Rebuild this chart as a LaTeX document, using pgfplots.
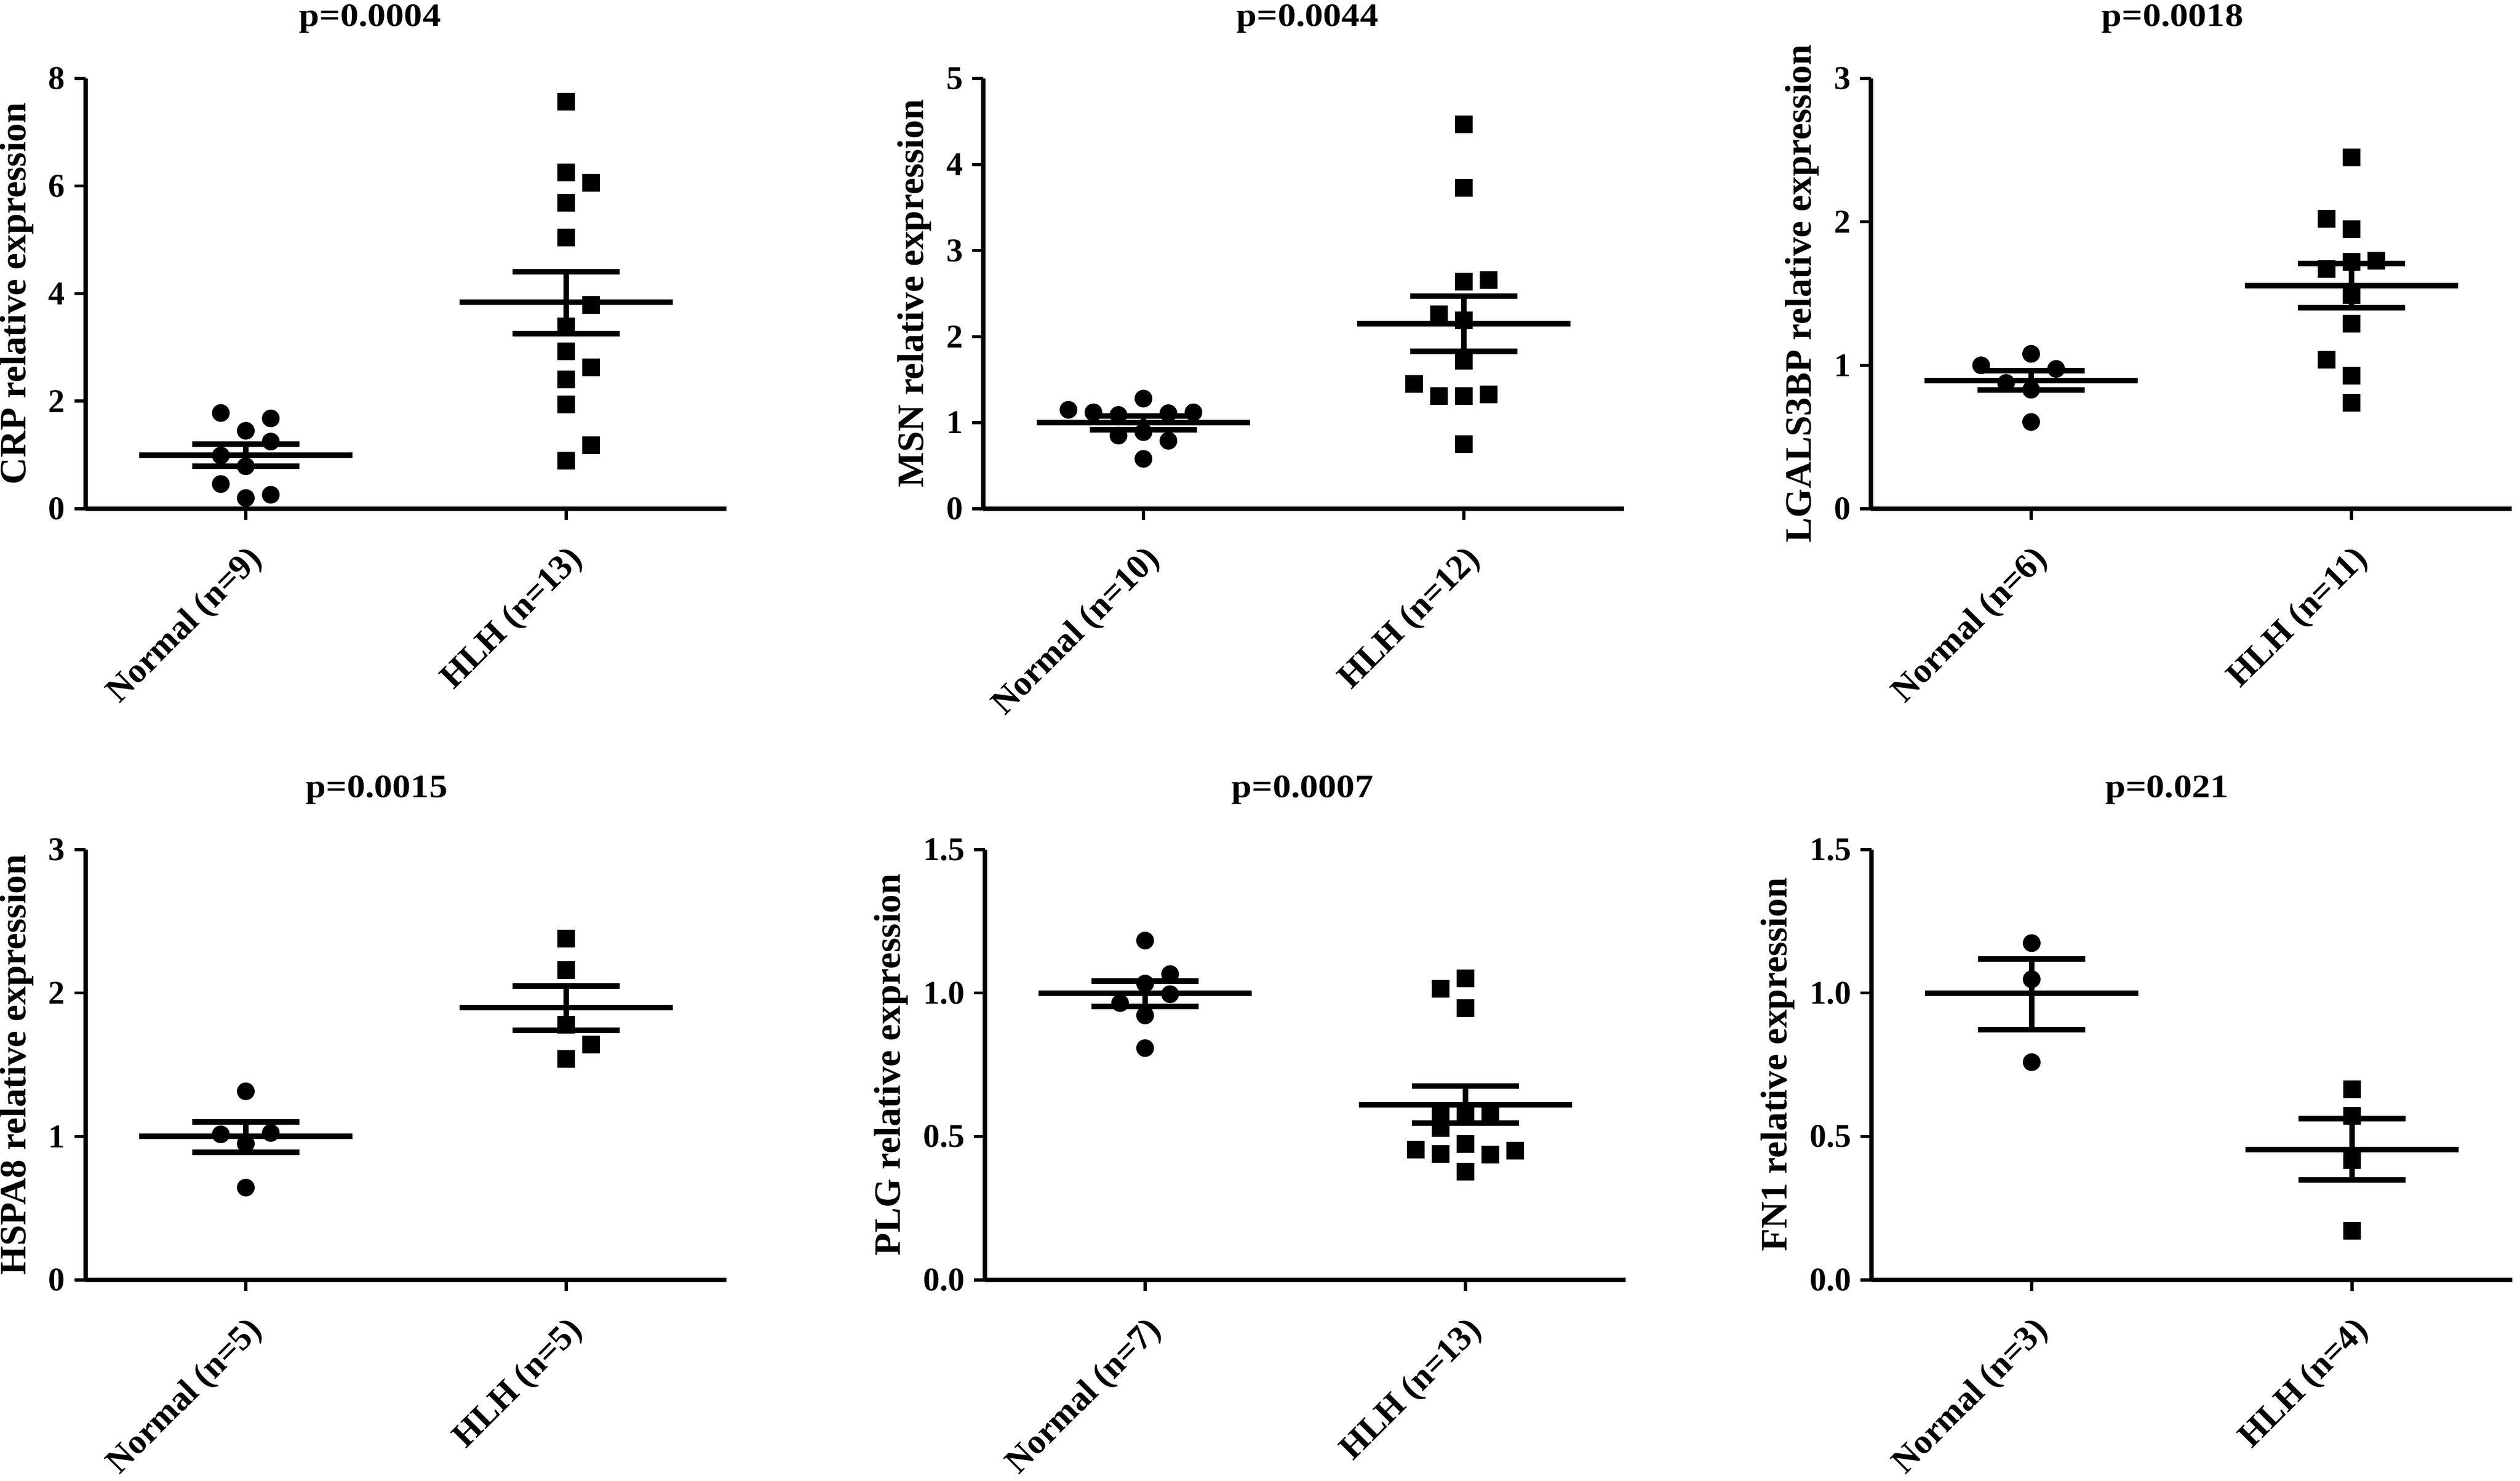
\documentclass[border=0pt]{standalone}
\usepackage{fontspec}
\setmainfont{Liberation Serif}
\newfontfamily\titlefam{Liberation Serif}[FakeStretch=1.12]
\usepackage{pgfplots}
\pgfplotsset{compat=1.18}

\newcommand{\tickfont}{\fontsize{6}{7}\selectfont\bfseries}
\newcommand{\labfont}{\fontsize{6.75}{8}\selectfont\bfseries}
\newcommand{\xlabfont}{\fontsize{6.3}{8}\selectfont\bfseries}
\newcommand{\ttlfont}{\titlefam\fontsize{5.9}{7}\selectfont\bfseries}

\pgfplotsset{
  panel/.style={
    scale only axis, width=116pt, height=77.9pt,
    xmin=0.5, xmax=2.5, ymin=0,
    axis x line*=bottom, axis y line*=left,
    axis line style={black, line width=0.8pt},
    xtick={1,2}, tick align=outside, major tick length=2pt,
    every tick/.style={black, line width=0.55pt},
    x tick label style={font=\xlabfont, rotate=45, anchor=north east},
    xticklabel shift=-0.7pt,
    y tick label style={font=\tickfont, inner sep=1.5pt},
    /pgf/number format/assume math mode=true,
    every axis y label/.style={font=\labfont, at={(ticklabel cs:0.5)}, anchor=near ticklabel, rotate=90, inner sep=1pt},
    clip=false,
  },
  nrm/.style={only marks, mark=*, black, mark size=1.55pt, mark options={line width=0.1pt}},
  hlh/.style={only marks, mark=square*, black, mark size=1.55pt, mark options={line width=0.1pt}},
  sem/.style={black, line width=1pt, mark=none},
}
% mean and SEM lines for group 1 (x=1) and group 2 (x=2): {mean}{lower}{upper}
\newcommand{\semN}[3]{%
  \addplot[sem] coordinates {(0.667,#1) (1.333,#1)};
  \addplot[sem] coordinates {(0.833,#3) (1.167,#3)};
  \addplot[sem] coordinates {(0.833,#2) (1.167,#2)};
  \addplot[sem] coordinates {(1,#2) (1,#3)};}
\newcommand{\semH}[3]{%
  \addplot[sem] coordinates {(1.667,#1) (2.333,#1)};
  \addplot[sem] coordinates {(1.833,#3) (2.167,#3)};
  \addplot[sem] coordinates {(1.833,#2) (2.167,#2)};
  \addplot[sem] coordinates {(2,#2) (2,#3)};}

\begin{document}
\begin{tikzpicture}
\path[use as bounding box] (0,0) rectangle (456.2pt,268.1pt);

% ---------- CRP ----------
\begin{axis}[panel, at={(15.5pt,176.0pt)}, anchor=south west,
  ymax=8, ytick={0,2,4,6,8},
  xticklabels={Normal (n=9), HLH (n=13)},
  ylabel={CRP relative expression}]
\addplot[nrm] coordinates {(0.922,1.78) (0.922,0.99) (0.922,0.46)
  (1,1.45) (1,0.79) (1,0.20) (1.078,1.68) (1.078,1.25) (1.078,0.26)};
\addplot[hlh] coordinates {(2,7.57) (2,6.25) (2,5.69) (2,5.04) (2,3.39) (2,2.93)
  (2,2.40) (2,1.94) (2,0.89) (2.078,6.06) (2.078,3.79) (2.078,2.63) (2.078,1.18)};
\semN{1.0}{0.79}{1.20}
\semH{3.84}{3.26}{4.41}
\end{axis}
\node[font=\ttlfont, anchor=base] at (67.0pt,263.3pt) {p=0.0004};

% ---------- MSN ----------
\begin{axis}[panel, at={(178.0pt,176.0pt)}, anchor=south west,
  ymax=5, ytick={0,1,2,3,4,5},
  xticklabels={Normal (n=10), HLH (n=12)},
  ylabel={MSN relative expression}]
\addplot[nrm] coordinates {(0.766,1.15) (0.844,1.12) (0.922,1.09) (0.922,0.85)
  (1,1.28) (1,0.89) (1,0.58) (1.078,1.11) (1.078,0.79) (1.156,1.12)};
\addplot[hlh] coordinates {(1.844,1.45) (1.922,2.26) (1.922,1.31) (2,4.47) (2,3.73)
  (2,2.64) (2,2.19) (2,1.72) (2,1.31) (2,0.75) (2.078,2.66) (2.078,1.33)};
\semN{1.0}{0.92}{1.08}
\semH{2.15}{1.83}{2.47}
\end{axis}
\node[font=\ttlfont, anchor=base] at (236.7pt,263.3pt) {p=0.0044};

% ---------- LGALS3BP ----------
\begin{axis}[panel, at={(338.7pt,176.0pt)}, anchor=south west,
  ymax=3, ytick={0,1,2,3},
  xticklabels={Normal (n=6), HLH (n=11)},
  ylabel={LGALS3BP relative expression}]
\addplot[nrm] coordinates {(0.844,1.0) (0.922,0.877) (1,1.08) (1,0.83) (1,0.605) (1.078,0.975)};
\addplot[hlh] coordinates {(1.922,2.02) (1.922,1.67) (1.922,1.04) (2,2.45) (2,1.95)
  (2,1.72) (2,1.49) (2,1.29) (2,0.93) (2,0.74) (2.078,1.73)};
\semN{0.894}{0.827}{0.963}
\semH{1.556}{1.402}{1.709}
\end{axis}
\node[font=\ttlfont, anchor=base] at (393.3pt,263.3pt) {p=0.0018};

% ---------- HSPA8 ----------
\begin{axis}[panel, at={(15.5pt,36.4pt)}, anchor=south west,
  ymax=3, ytick={0,1,2,3},
  xticklabels={Normal (n=5), HLH (n=5)},
  ylabel={HSPA8 relative expression}]
\addplot[nrm] coordinates {(0.922,1.015) (1,1.315) (1,0.95) (1,0.644) (1.078,1.025)};
\addplot[hlh] coordinates {(2,2.38) (2,2.16) (2,1.78) (2,1.54) (2.078,1.64)};
\semN{1.0}{0.89}{1.10}
\semH{1.90}{1.74}{2.05}
\end{axis}
\node[font=\ttlfont, anchor=base] at (68.2pt,123.7pt) {p=0.0015};

% ---------- PLG ----------
\begin{axis}[panel, at={(178.3pt,36.4pt)}, anchor=south west,
  ymax=1.5, ytick={0,0.5,1.0,1.5},
  yticklabel style={/pgf/number format/.cd, fixed, fixed zerofill, precision=1},
  xticklabels={Normal (n=7), HLH (n=13)},
  ylabel={PLG relative expression}]
\addplot[nrm] coordinates {(0.922,0.965) (1,1.183) (1,1.033) (1,0.922) (1,0.808)
  (1.078,1.066) (1.078,0.996)};
\addplot[hlh] coordinates {(1.844,0.455) (1.922,1.014) (1.922,0.59) (1.922,0.529)
  (1.922,0.439) (2,1.051) (2,0.947) (2,0.57) (2,0.473) (2,0.377) (2.078,0.584)
  (2.078,0.437) (2.156,0.451)};
\semN{1.0}{0.953}{1.041}
\semH{0.611}{0.547}{0.676}
\end{axis}
\node[font=\ttlfont, anchor=base] at (235.8pt,123.7pt) {p=0.0007};

% ---------- FN1 ----------
\begin{axis}[panel, at={(338.8pt,36.4pt)}, anchor=south west,
  ymax=1.5, ytick={0,0.5,1.0,1.5},
  yticklabel style={/pgf/number format/.cd, fixed, fixed zerofill, precision=1},
  xticklabels={Normal (n=3), HLH (n=4)},
  ylabel={FN1 relative expression}]
\addplot[nrm] coordinates {(1,1.174) (1,1.048) (1,0.759)};
\addplot[hlh] coordinates {(2,0.664) (2,0.572) (2,0.418) (2,0.172)};
\semN{1.0}{0.873}{1.119}
\semH{0.455}{0.348}{0.563}
\end{axis}
\node[font=\ttlfont, anchor=base] at (392.3pt,123.7pt) {p=0.021};
\end{tikzpicture}
\end{document}
